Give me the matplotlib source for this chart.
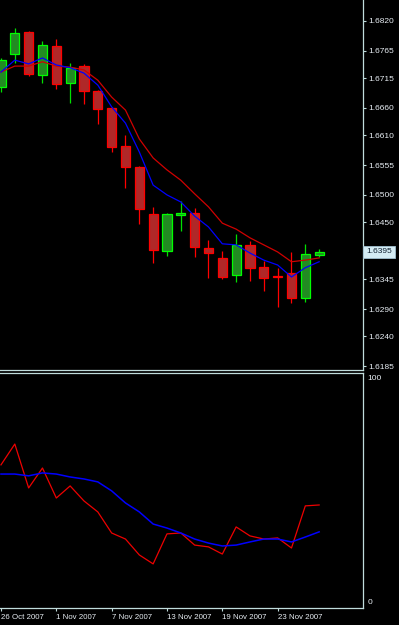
import numpy as np
import matplotlib
matplotlib.use('Agg')
import matplotlib.pyplot as plt

plt.rcParams['font.family'] = ['Liberation Sans', 'DejaVu Sans']

# 日线蜡烛数据
opens = [1.6699, 1.6759, 1.6800, 1.6721, 1.6774, 1.6706, 1.6737, 1.6691, 1.6660, 1.6590, 1.6551, 1.6465,
         1.6397, 1.6463, 1.6467, 1.6402, 1.6384, 1.6353, 1.6408, 1.6367, 1.6350, 1.6356, 1.6310, 1.6389]
highs = [1.6752, 1.6807, 1.6802, 1.6783, 1.6787, 1.6743, 1.6741, 1.6693, 1.6662, 1.6610, 1.6553, 1.6478,
         1.6467, 1.6489, 1.6476, 1.6417, 1.6396, 1.6428, 1.6415, 1.6378, 1.6365, 1.6395, 1.6410, 1.6400]
lows = [1.6689, 1.6743, 1.6719, 1.6706, 1.6695, 1.6669, 1.6667, 1.6630, 1.6579, 1.6513, 1.6447, 1.6375,
        1.6388, 1.6434, 1.6386, 1.6347, 1.6345, 1.6340, 1.6342, 1.6323, 1.6294, 1.6301, 1.6303, 1.6386]
closes = [1.6748, 1.6798, 1.6722, 1.6776, 1.6704, 1.6734, 1.6691, 1.6658, 1.6588, 1.6551, 1.6474, 1.6399,
          1.6465, 1.6467, 1.6404, 1.6393, 1.6349, 1.6408, 1.6365, 1.6347, 1.6349, 1.6310, 1.6391, 1.6395]

# 均线
ma_fast = [1.6726, 1.6748, 1.6741, 1.6752, 1.6739, 1.6734, 1.6724, 1.6702, 1.6662, 1.6632, 1.6579, 1.6518,
           1.6500, 1.6487, 1.6461, 1.6441, 1.6410, 1.6408, 1.6393, 1.6380, 1.6371, 1.6349, 1.6366, 1.6377]
ma_slow = [1.6726, 1.6737, 1.6737, 1.6745, 1.6737, 1.6735, 1.6730, 1.6711, 1.6680, 1.6656, 1.6603, 1.6568,
           1.6546, 1.6527, 1.6502, 1.6478, 1.6448, 1.6437, 1.6421, 1.6408, 1.6395, 1.6377, 1.6380, 1.6384]

# 下方指标
ind_main = [61.2, 70.5, 50.9, 59.8, 46.4, 51.8, 45.1, 40.2, 30.8, 28.1, 21.0, 17.0,
            30.4, 30.8, 25.4, 24.6, 21.4, 33.5, 29.5, 28.1, 28.6, 24.1, 42.9, 43.3]
ind_signal = [57.1, 57.1, 56.3, 57.6, 57.1, 55.8, 54.9, 53.6, 49.6, 44.2, 40.2, 34.8,
              33.0, 30.8, 28.1, 26.3, 25.0, 25.4, 26.8, 28.1, 28.1, 26.8, 29.0, 31.3]

price_ticks = [1.6820, 1.6765, 1.6715, 1.6660, 1.6610, 1.6555, 1.6500, 1.6450,
               1.6345, 1.6290, 1.6240, 1.6185]
last_price = 1.6395
date_pos = [0, 4, 8, 12, 16, 20]
date_labels = ['26 Oct 2007', '1 Nov 2007', '7 Nov 2007', '13 Nov 2007', '19 Nov 2007', '23 Nov 2007']

axis_col = '#c0dcdc'
text_col = '#e8eef4'

W, H = 399, 625
fig = plt.figure(figsize=(W / 100, H / 100), dpi=100, facecolor='black')
ax = fig.add_axes([0, (H - 370) / H, 363 / W, 370 / H], facecolor='black')
ax2 = fig.add_axes([0, 17 / H, 363 / W, 235 / H], facecolor='black')

x = np.arange(len(opens))
o = np.array(opens); c = np.array(closes)
up = c >= o

# 影线
ax.vlines(x[up], np.array(lows)[up], np.array(highs)[up], color='#00e000', lw=0.9, zorder=2)
ax.vlines(x[~up], np.array(lows)[~up], np.array(highs)[~up], color='#ff0000', lw=0.9, zorder=2)
# 实体
ax.bar(x[up], (c - o)[up], bottom=o[up], width=0.66, color='#228b22', edgecolor='#00ff00', lw=0.9, zorder=3)
ax.bar(x[~up], (c - o)[~up], bottom=o[~up], width=0.66, color='#b02828', edgecolor='#ff0000', lw=0.9, zorder=3)

ax.plot(x, ma_slow, color='#d00000', lw=0.9, zorder=4)
ax.plot(x, ma_fast, color='#0000ff', lw=0.9, zorder=4)

ax.set_xlim(-0.07, 26.17)
ax.set_ylim(1.61778, 1.68586)
ax.set_xticks([])
ax.yaxis.tick_right()
ax.set_yticks(price_ticks)
ax.set_yticklabels(['%.4f' % v for v in price_ticks])
ax.tick_params(axis='y', colors=axis_col, labelcolor=text_col, length=2, width=0.8, pad=2, labelsize=6)
for s in ['top', 'left']:
    ax.spines[s].set_visible(False)
for s in ['right', 'bottom']:
    ax.spines[s].set_color(axis_col)
    ax.spines[s].set_linewidth(0.9)

ax.text(1.008, last_price, '%.4f' % last_price, transform=ax.get_yaxis_transform(),
        va='center', ha='left', fontsize=6, color='#102030',
        bbox=dict(boxstyle='square,pad=0.35', fc='#d4ecf4', ec='#a0c0d0', lw=0.6))

# 下方面板
ax2.plot(x, ind_main, color='#ee0000', lw=0.9)
ax2.plot(x, ind_signal, color='#0000ff', lw=1.1)
ax2.set_xlim(-0.07, 26.17)
ax2.set_ylim(-2.68, 102.2)
ax2.yaxis.tick_right()
ax2.set_yticks([0, 100])
ax2.set_yticklabels(['0', '100'])
ax2.set_xticks(date_pos)
ax2.set_xticklabels(date_labels, ha='left')
ax2.tick_params(axis='y', length=0, pad=3, labelcolor=text_col, labelsize=6)
ax2.tick_params(axis='x', colors=axis_col, labelcolor=text_col, length=2, width=0.8, pad=2, labelsize=5.7)
ax2.spines['left'].set_visible(False)
for s in ['right', 'bottom', 'top']:
    ax2.spines[s].set_color(axis_col)
    ax2.spines[s].set_linewidth(0.9)

fig.savefig('out.png', dpi=100, facecolor='black')
